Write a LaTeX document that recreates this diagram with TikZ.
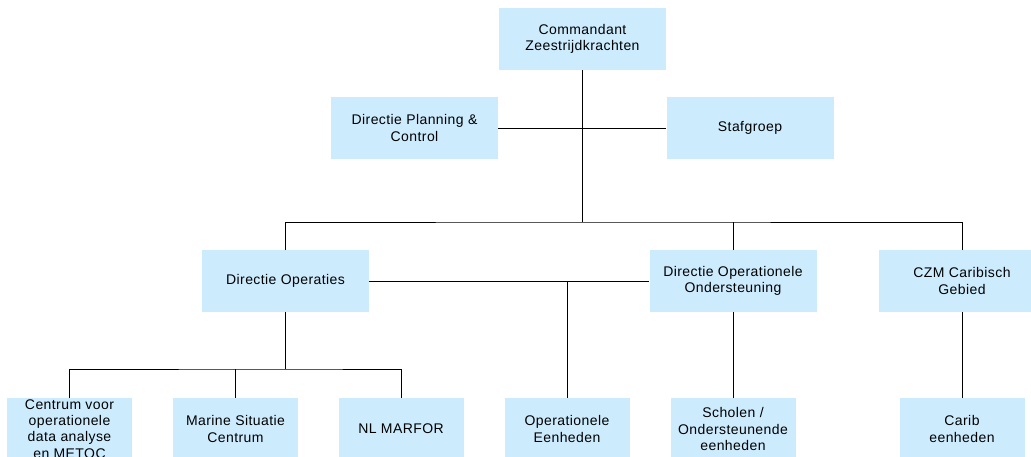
\documentclass[tikz,border=0pt]{standalone}
\usepackage{fontspec}
\setmainfont{Liberation Sans}[LetterSpace=3]
\usetikzlibrary{positioning}

\definecolor{boxblue}{RGB}{204,236,254}

\begin{document}
\begin{tikzpicture}[node distance=2cm, on grid, x=1pt, y=1pt,
    unit/.style={fill=boxblue, minimum width=167pt, minimum height=62pt,
        inner sep=0pt, align=center, font=\fontsize{14}{16.3}\selectfont},
    subunit/.style={unit, minimum width=125pt},
    link/.style={draw=black, line width=1pt}]
    \useasboundingbox (0,0) rectangle (1031,-456);
    % Define units
    \node[unit] (czd) at (582.5,-39) {Commandant\\Zeestrijdkrachten};
    \node[unit] (dpc) [below left=89pt and 168pt of czd] {Directie Planning \&\\Control};
    \node[unit] (staf) [below right=89pt and 167.5pt of czd] {Stafgroep};
    \node[unit] (dop) [below left=242pt and 297pt of czd] {Directie Operaties};
    \node[unit] (doo) [below right=242pt and 150.5pt of czd] {Directie Operationele\\Ondersteuning};
    \node[unit] (czm) [right=229pt of doo] {CZM Caribisch\\Gebied};
    \node[subunit] (cen) [below left=148pt and 216pt of dop] {Centrum voor\\operationele\\data analyse\\en METOC};
    \node[subunit] (msc) [below left=148pt and 50pt of dop] {Marine Situatie\\Centrum};
    \node[subunit] (nlm) [below right=148pt and 115.5pt of dop] {NL MARFOR};
    \node[subunit] (ope) [below left=148pt and 166pt of doo] {Operationele\\Eenheden};
    \node[subunit] (sch) [below=148pt of doo] {Scholen /\\Ondersteunende\\eenheden};
    \node[subunit] (car) [below=148pt of czm] {Carib\\eenheden};
    \coordinate[below=183pt of czd] (hub);
    \coordinate[below=88pt of dop] (fork);

    % Define lines
    \path[link]
    (czd) -- (hub)
    (dpc) -- (staf)
    (dop) |- (hub) -| (czm)
    (doo) -- (doo |- hub)
    (dop) -- (doo)
    (ope) -- (ope |- dop)
    (doo) -- (sch)
    (czm) -- (car)
    (dop) -- (fork)
    (cen) |- (fork) -| (nlm)
    (msc) -- (msc |- fork);
\end{tikzpicture}
\end{document}
